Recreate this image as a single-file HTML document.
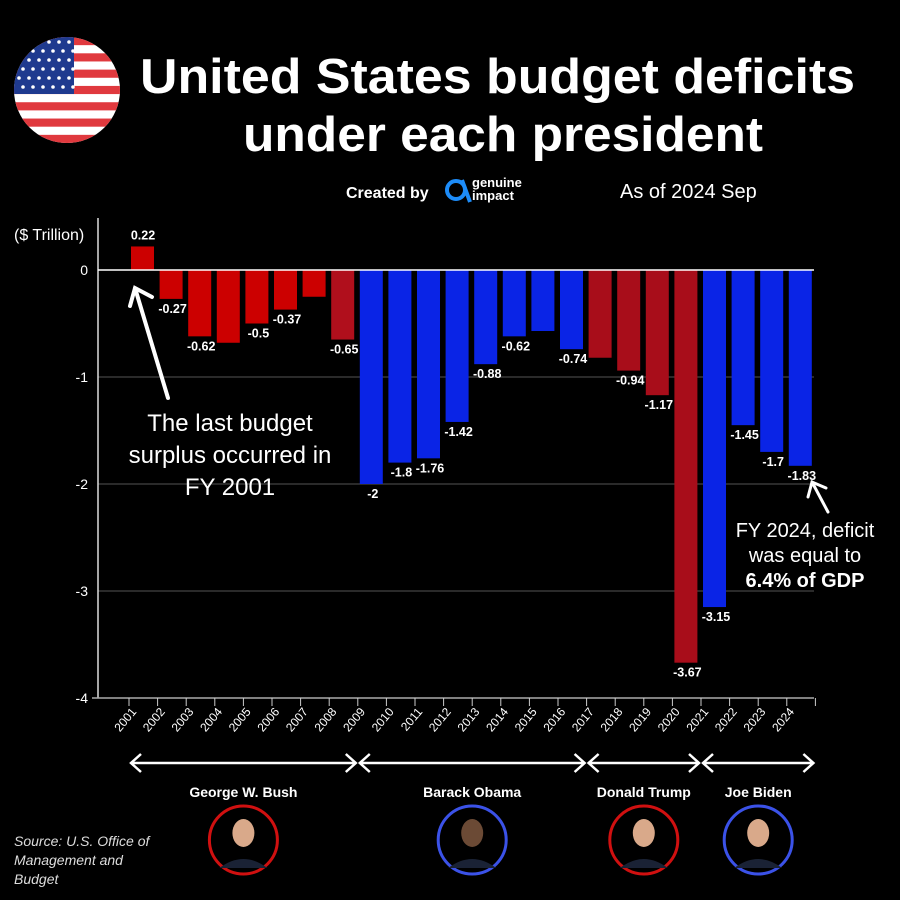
<!DOCTYPE html>
<html><head><meta charset="utf-8"><style>
body{margin:0;background:#000;width:900px;height:900px;overflow:hidden;font-family:"Liberation Sans",sans-serif;color:#fff}
svg{position:absolute;left:0;top:0}
svg text{fill:#fff}
svg text.src{fill:#ddd}
</style></head><body>
<svg width="900" height="900" viewBox="0 0 900 900">
<defs><clipPath id="fc"><circle cx="67" cy="90" r="53"/></clipPath></defs>
<g clip-path="url(#fc)">
<rect x="14" y="37" width="106" height="106" fill="#fff"/>
<g id="stripes" fill="#e0393e"></g>
<rect x="14" y="37" width="60" height="57" fill="#1f3a8f"/>
<g id="stars" fill="#fff"></g>
</g>
<text x="140" y="93" font-size="49" font-weight="bold" textLength="715" lengthAdjust="spacingAndGlyphs">United States budget deficits</text>
<text x="243" y="151" font-size="49" font-weight="bold" textLength="520" lengthAdjust="spacingAndGlyphs">under each president</text>
<text x="346" y="198" font-size="16" font-weight="bold">Created by</text>
<g>
<circle cx="456" cy="190" r="9" fill="none" stroke="#1d8cf8" stroke-width="4"/>
<path d="M462 180 L470 202" stroke="#1d8cf8" stroke-width="4"/>
<text x="472" y="187" font-size="13" font-weight="bold">genuine</text>
<text x="472" y="200" font-size="13" font-weight="bold">impact</text>
</g>
<text x="620" y="198" font-size="20">As of 2024 Sep</text>
<text x="14" y="240" font-size="16">($ Trillion)</text>
<g id="grid"></g>
<line x1="98" y1="218" x2="98" y2="698" stroke="#ddd" stroke-width="1.5"/>
<line x1="92" y1="698" x2="814" y2="698" stroke="#aaa" stroke-width="1.5"/>
<g id="bars"></g><g id="xt"></g>
<g>
<path d="M168 398 L135 288 M130 306 L135 288 L152 297" stroke="#fff" stroke-width="4" fill="none" stroke-linecap="round"/>
<text x="230" y="431" text-anchor="middle" font-size="24">The last budget</text>
<text x="230" y="463" text-anchor="middle" font-size="24">surplus occurred in</text>
<text x="230" y="495" text-anchor="middle" font-size="24">FY 2001</text>
</g>
<g>
<path d="M828 512 L812 482 M808 497 L812 482 L826 488" stroke="#fff" stroke-width="3" fill="none" stroke-linecap="round"/>
<text x="805" y="537" text-anchor="middle" font-size="20">FY 2024, deficit</text>
<text x="805" y="562" text-anchor="middle" font-size="20">was equal to</text>
<text x="805" y="587" text-anchor="middle" font-size="20" font-weight="bold">6.4% of GDP</text>
</g>
<g id="pres"></g>
<text class="src" x="14" y="846" font-size="14" font-style="italic">Source: U.S. Office of</text>
<text class="src" x="14" y="865" font-size="14" font-style="italic">Management and</text>
<text class="src" x="14" y="884" font-size="14" font-style="italic">Budget</text>
</svg>
<script>
const years=["2001","2002","2003","2004","2005","2006","2007","2008","2009","2010","2011","2012","2013","2014","2015","2016","2017","2018","2019","2020","2021","2022","2023","2024"];
const values=[0.22,-0.27,-0.62,-0.68,-0.5,-0.37,-0.25,-0.65,-2,-1.8,-1.76,-1.42,-0.88,-0.62,-0.57,-0.74,-0.82,-0.94,-1.17,-3.67,-3.15,-1.45,-1.7,-1.83];
const shownLabels=["0.22","-0.27","-0.62","","-0.5","-0.37","","-0.65","-2","-1.8","-1.76","-1.42","-0.88","-0.62","","-0.74","","-0.94","-1.17","-3.67","-3.15","-1.45","-1.7","-1.83"];
const colors=["#cc0000","#cc0000","#cc0000","#cc0000","#cc0000","#cc0000","#cc0000","#b00f1c","#0a24e6","#0a24e6","#0a24e6","#0a24e6","#0a24e6","#0a24e6","#0a24e6","#0a24e6","#a80d1a","#a80d1a","#a80d1a","#a80d1a","#0a24e6","#0a24e6","#0a24e6","#0a24e6"];
const yTicks=[0,-1,-2,-3,-4];
const presidents=["George W. Bush","Barack Obama","Donald Trump","Joe Biden"];
const presStart=[0,8,16,20];
const presEnd=[8,16,20,24];
const presColor=["#d01010","#3b52e8","#d01010","#3b52e8"];
const NS="http://www.w3.org/2000/svg";
const y=v=>270-v*107;
const x0=129,step=28.6;
const x=i=>x0+i*step;
function mk(t,a,p){const e=document.createElementNS(NS,t);for(const k in a)e.setAttribute(k,a[k]);p.appendChild(e);return e;}
const st=document.getElementById('stripes');
for(let i=0;i<13;i+=2)mk('rect',{x:14,y:37+i*106/13,width:106,height:106/13},st);
const sr=document.getElementById('stars');
for(let r=0;r<6;r++)for(let c=0;c<6;c++)mk('circle',{cx:19+c*10+(r%2)*4,cy:42+r*9,r:1.8},sr);
const g=document.getElementById('grid');
yTicks.forEach(v=>{
 if(v!==-4&&v!==0){const l=mk('line',{x1:98,x2:814,y1:y(v),y2:y(v),stroke:'#555','stroke-width':1},g);
 
 }
 const t=mk('text',{x:88,y:y(v)+5,'text-anchor':'end','font-size':14},g);t.textContent=v;
 
 
});
const b=document.getElementById('bars');
values.forEach((v,i)=>{
 const r=mk('rect',{x:x(i)+2,width:23,y:Math.min(y(v),y(0)),height:Math.abs(y(v)-y(0)),fill:colors[i]},b);
 
 
 if(shownLabels[i]){const t=mk('text',{x:x(i)+14+(v<0?1:0),y:v>=0?y(v)-7:y(v)+14,'text-anchor':'middle','font-size':12.5,'font-weight':'bold'},b);t.textContent=shownLabels[i];
 
 }
});
const zl=mk('line',{x1:98,x2:814,y1:y(0),y2:y(0),stroke:'#fff','stroke-width':1.5},b);


const xt=document.getElementById('xt');
for(let i=0;i<=24;i++){mk('line',{x1:x(i),x2:x(i),y1:698,y2:706,stroke:'#ccc'},xt);}
years.forEach((yr,i)=>{const t=mk('text',{x:x(i)+8,y:712,'text-anchor':'end','font-size':12,transform:`rotate(-50 ${x(i)+8} 712)`},xt);t.textContent=yr;
 
 });
const pg=document.getElementById('pres');
presidents.forEach((p,i)=>{
 const a=x(presStart[i]),e=x(presEnd[i]),ay=763;
 const ar=mk('path',{d:`M${a+2} ${ay} L${e-2} ${ay} M${a+12} ${ay-9} L${a+2} ${ay} L${a+12} ${ay+9} M${e-12} ${ay-9} L${e-2} ${ay} L${e-12} ${ay+9}`,stroke:'#fff','stroke-width':2.5,fill:'none'},pg);
 
 
 const cx=(a+e)/2;
 const t=mk('text',{x:cx,y:797,'text-anchor':'middle','font-size':14,'font-weight':'bold'},pg);t.textContent=p;
 
 
 const c=mk('circle',{cx:cx,cy:840,r:34,fill:'#000',stroke:presColor[i],'stroke-width':3},pg);
 
 
 mk('path',{d:`M${cx-24} 868 Q${cx} 850 ${cx+24} 868 Z`,fill:'#1a2235'},pg);
 mk('ellipse',{cx:cx,cy:833,rx:11,ry:14,fill:i==1?'#6b4a35':'#d9a98a'},pg);
});
</script>
</body></html>
